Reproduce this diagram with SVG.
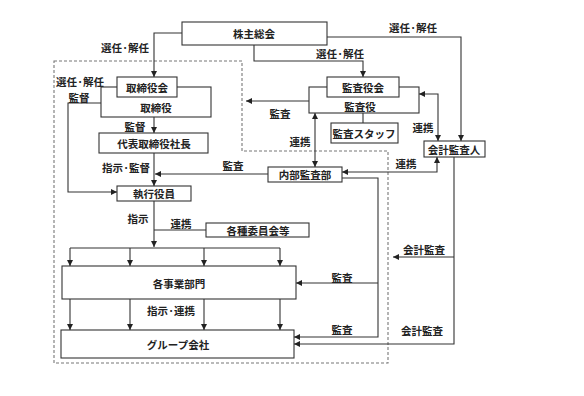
<svg xmlns="http://www.w3.org/2000/svg" width="584" height="396" viewBox="0 0 584 396">
<style>
.b{fill:#fff;stroke:#333;stroke-width:1.1}
.c{fill:none;stroke:#333;stroke-width:1.1}
.d{fill:none;stroke:#777;stroke-width:1.1;stroke-dasharray:3 2}
text{font-family:"Noto Sans CJK JP","Noto Sans CJK SC",sans-serif;font-size:10.5px;font-weight:bold;fill:#222;text-anchor:middle;dominant-baseline:central}
</style>
<defs>
<marker id="a" markerUnits="userSpaceOnUse" markerWidth="7" markerHeight="6" refX="6" refY="3" orient="auto-start-reverse"><path d="M0,0 L6,3 L0,6 z" fill="#222"/></marker>
</defs>
<rect width="584" height="396" fill="#fff"/>
<path class="d" d="M54,61 H242 V151 H388 V363 H54 Z"/>
<g id="connectors">
<path class="c" d="M182,33 H154 V77" marker-end="url(#a)"/>
<path class="c" d="M254,45 V61 H363 V77" marker-end="url(#a)"/>
<path class="c" d="M327,37 H461 V141" marker-end="url(#a)"/>
<path class="c" d="M101,103 H68 V192 H117" marker-end="url(#a)"/>
<path class="c" d="M154,117 V133" marker-end="url(#a)"/>
<path class="c" d="M154,153 V186" marker-end="url(#a)"/>
<path class="c" d="M268,174 H155" marker-end="url(#a)"/>
<path class="c" d="M154,201 V247" marker-end="url(#a)"/>
<path class="c" d="M206,230 H154"/>
<path class="c" d="M70,248 H280"/>
<path class="c" d="M70,248 V266" marker-end="url(#a)"/>
<path class="c" d="M130,248 V266" marker-end="url(#a)"/>
<path class="c" d="M204,248 V266" marker-end="url(#a)"/>
<path class="c" d="M280,248 V266" marker-end="url(#a)"/>
<path class="c" d="M70,299 V330" marker-end="url(#a)"/>
<path class="c" d="M130,299 V330" marker-end="url(#a)"/>
<path class="c" d="M204,299 V330" marker-end="url(#a)"/>
<path class="c" d="M280,299 V330" marker-end="url(#a)"/>
<path class="c" d="M342,178 H378 V337 H294" marker-end="url(#a)"/>
<path class="c" d="M378,283 H296" marker-end="url(#a)"/>
<path class="c" d="M454,157 V344 H294" marker-end="url(#a)"/>
<path class="c" d="M454,257 H393" marker-end="url(#a)"/>
<path class="c" d="M342,172 H437 V157" marker-start="url(#a)" marker-end="url(#a)"/>
<path class="c" d="M315,113 V167" marker-start="url(#a)" marker-end="url(#a)"/>
<path class="c" d="M419,94 H438 V141" marker-start="url(#a)" marker-end="url(#a)"/>
<path class="c" d="M309,101 H246" marker-end="url(#a)"/>
<path class="c" d="M363,113 V123"/>
</g>
<g id="labels">
<text x="125" y="47">選任·解任</text>
<text x="340" y="53">選任·解任</text>
<text x="413" y="27">選任·解任</text>
<text x="80" y="81.5">選任·解任</text>
<text x="79" y="97">監督</text>
<text x="135" y="126">監督</text>
<text x="126" y="167">指示·監督</text>
<text x="233" y="165">監査</text>
<text x="138" y="218">指示</text>
<text x="181" y="223">連携</text>
<text x="171" y="310">指示·連携</text>
<text x="342" y="277">監査</text>
<text x="342" y="329">監査</text>
<text x="424" y="249">会計監査</text>
<text x="422" y="330">会計監査</text>
<text x="280" y="113">監査</text>
<text x="300" y="141">連携</text>
<text x="423" y="127">連携</text>
<text x="406" y="163">連携</text>
</g>
<g id="shareholders"><rect class="b" x="182" y="22" width="145" height="23"/><text x="254" y="33">株主総会</text></g>
<g id="directors"><rect class="b" x="101" y="87" width="110" height="30"/><text x="156" y="107">取締役</text></g>
<g id="board"><rect class="b" x="117" y="77" width="60" height="20"/><text x="147" y="87">取締役会</text></g>
<g id="president"><rect class="b" x="99" y="133" width="109" height="20"/><text x="154" y="143">代表取締役社長</text></g>
<g id="officers"><rect class="b" x="117" y="186" width="74" height="15"/><text x="154" y="193.5">執行役員</text></g>
<g id="committees"><rect class="b" x="206" y="223" width="103" height="14"/><text x="258" y="230">各種委員会等</text></g>
<g id="divisions"><rect class="b" x="62" y="266" width="234" height="33"/><text x="179" y="283">各事業部門</text></g>
<g id="group"><rect class="b" x="61" y="330" width="233" height="28"/><text x="178" y="344">グループ会社</text></g>
<g id="auditors"><rect class="b" x="309" y="87" width="110" height="26"/><text x="360" y="106">監査役</text></g>
<g id="auditboard"><rect class="b" x="327" y="77" width="72" height="20"/><text x="363" y="87">監査役会</text></g>
<g id="auditstaff"><rect class="b" x="331" y="123" width="67" height="20"/><text x="364" y="133">監査スタッフ</text></g>
<g id="internalaudit"><rect class="b" x="268" y="167" width="74" height="15"/><text x="305" y="174.5">内部監査部</text></g>
<g id="accountingauditor"><rect class="b" x="424" y="141" width="61" height="16"/><text x="454" y="149">会計監査人</text></g>
</svg>
